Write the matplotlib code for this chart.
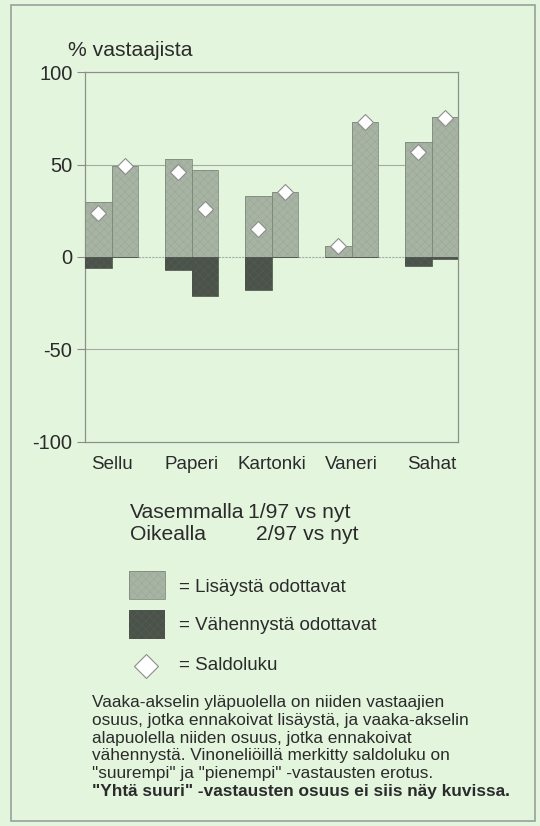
import matplotlib
matplotlib.use("Agg")
import matplotlib.pyplot as plt
import numpy as np
from matplotlib.patches import Rectangle
from matplotlib.lines import Line2D

# Survey balance: share of respondents expecting an increase / a decrease
categories = ["Sellu", "Paperi", "Kartonki", "Vaneri", "Sahat"]
increase_left = [30, 53, 33, 6, 62]      # 1/97 vs nyt
decrease_left = [-6, -7, -18, 0, -5]
saldo_left = [24, 46, 15, 6, 57]
increase_right = [49, 47, 35, 73, 76]    # 2/97 vs nyt
decrease_right = [0, -21, 0, 0, -1]
saldo_right = [49, 26, 35, 73, 75]
yticks = [-100, -50, 0, 50, 100]

BG = "#e4f5de"
POS = "#a7b3a3"
NEG = "#4b524a"
EDGE = "#7f8a7d"
TXT = "#2b2b2b"
FONT = ["Liberation Sans", "DejaVu Sans"]

plt.rcParams["font.family"] = FONT
plt.rcParams["hatch.linewidth"] = 0.4

fig = plt.figure(figsize=(5.4, 8.26), dpi=100, facecolor=BG)

# outer frame of the panel
fig.patches.append(Rectangle((11 / 540, 1 - 821 / 826), 524 / 540, 816 / 826,
                             transform=fig.transFigure, fill=False,
                             edgecolor="#9a9f99", lw=1.2))

ax = fig.add_axes([85 / 540, 1 - 441.7 / 826, 373.3 / 540, 369.4 / 826])
ax.set_facecolor(BG)

w = 0.333
x = np.arange(len(categories))


def bars(xpos, vals, face, hatch_col):
    bc = ax.bar(xpos, vals, width=w, color=face, edgecolor=hatch_col,
                lw=0, hatch="xxxx", zorder=3)
    # outline drawn separately so the hatch colour can stay subtle
    ax.bar(xpos, vals, width=w, fill=False, edgecolor=EDGE if face == POS else face,
           lw=0.6, zorder=4)
    return bc


bars(x - w / 2, increase_left, POS, "#9ba897")
bars(x + w / 2, increase_right, POS, "#9ba897")
bars(x - w / 2, decrease_left, NEG, "#555c54")
bars(x + w / 2, decrease_right, NEG, "#555c54")

ax.plot(x - w / 2, saldo_left, ls="none", marker="D", ms=8.5, mfc="white",
        mec="#8c8c8c", mew=0.8, zorder=5)
ax.plot(x + w / 2, saldo_right, ls="none", marker="D", ms=8.5, mfc="white",
        mec="#8c8c8c", mew=0.8, zorder=5)

ax.set_xlim(-w, len(categories) - 1 + w)
ax.set_ylim(-100, 100)
ax.set_yticks(yticks)
ax.set_yticklabels([str(v) for v in yticks], fontsize=14.5, color=TXT)
ax.set_xticks(x)
ax.set_xticklabels(categories, fontsize=13.5, color=TXT)
ax.tick_params(axis="x", length=0, pad=10)
ax.tick_params(axis="y", length=6, width=0.8, color="#8a8a8a", pad=3)
for v in (-50, 50):
    ax.axhline(v, color="#a3aba1", lw=0.8, zorder=1)
ax.axhline(0, color="#a3aba1", lw=0.8, ls=(0, (2, 1)), zorder=1)
for s in ax.spines.values():
    s.set_color("#8a8f89")
    s.set_linewidth(0.9)

fig.text(68 / 540, 1 - 50 / 826, "% vastaajista", fontsize=15.2, color=TXT,
         va="center", ha="left")

# legend block
fig.text(130 / 540, 1 - 513 / 826, "Vasemmalla", fontsize=15.2, color=TXT, va="center")
fig.text(248 / 540, 1 - 513 / 826, "1/97 vs nyt", fontsize=15.2, color=TXT, va="center")
fig.text(130 / 540, 1 - 534 / 826, "Oikealla", fontsize=15.2, color=TXT, va="center")
fig.text(256 / 540, 1 - 534 / 826, "2/97 vs nyt", fontsize=15.2, color=TXT, va="center")

fig.patches.append(Rectangle((129 / 540, 1 - 599.3 / 826), 36 / 540, 28.6 / 826,
                             transform=fig.transFigure, facecolor=POS,
                             edgecolor="#9ba897", hatch="xxxx", lw=0))
fig.patches.append(Rectangle((129 / 540, 1 - 599.3 / 826), 36 / 540, 28.6 / 826,
                             transform=fig.transFigure, fill=False,
                             edgecolor=EDGE, lw=0.6))
fig.patches.append(Rectangle((129 / 540, 1 - 638.7 / 826), 36 / 540, 28.6 / 826,
                             transform=fig.transFigure, facecolor=NEG,
                             edgecolor="#555c54", hatch="xxxx", lw=0))
fig.lines.append(Line2D([146 / 540], [1 - 665.7 / 826], transform=fig.transFigure,
                        ls="none", marker="D", ms=12, mfc="white",
                        mec="#8c8c8c", mew=0.8))

fig.text(179 / 540, 1 - 587 / 826, "= Lisäystä odottavat", fontsize=13.5, color=TXT, va="center")
fig.text(179 / 540, 1 - 625 / 826, "= Vähennystä odottavat", fontsize=13.5, color=TXT, va="center")
fig.text(179 / 540, 1 - 665.7 / 826, "= Saldoluku", fontsize=13.5, color=TXT, va="center")

note_lines = [
    "Vaaka-akselin yläpuolella on niiden vastaajien",
    "osuus, jotka ennakoivat lisäystä, ja vaaka-akselin",
    "alapuolella niiden osuus, jotka ennakoivat",
    "vähennystä. Vinoneliöillä merkitty saldoluku on",
    "\"suurempi\" ja \"pienempi\" -vastausten erotus.",
]
y0 = 702.7
for i, line in enumerate(note_lines):
    fig.text(92 / 540, 1 - (y0 + i * 17.7) / 826, line, fontsize=12.4, color=TXT, va="center")
fig.text(92 / 540, 1 - (y0 + 5 * 17.7) / 826,
         "\"Yhtä suuri\" -vastausten osuus ei siis näy kuvissa.",
         fontsize=12.4, fontweight="bold", color=TXT, va="center")

fig.savefig("out.png", dpi=100, facecolor=BG)
